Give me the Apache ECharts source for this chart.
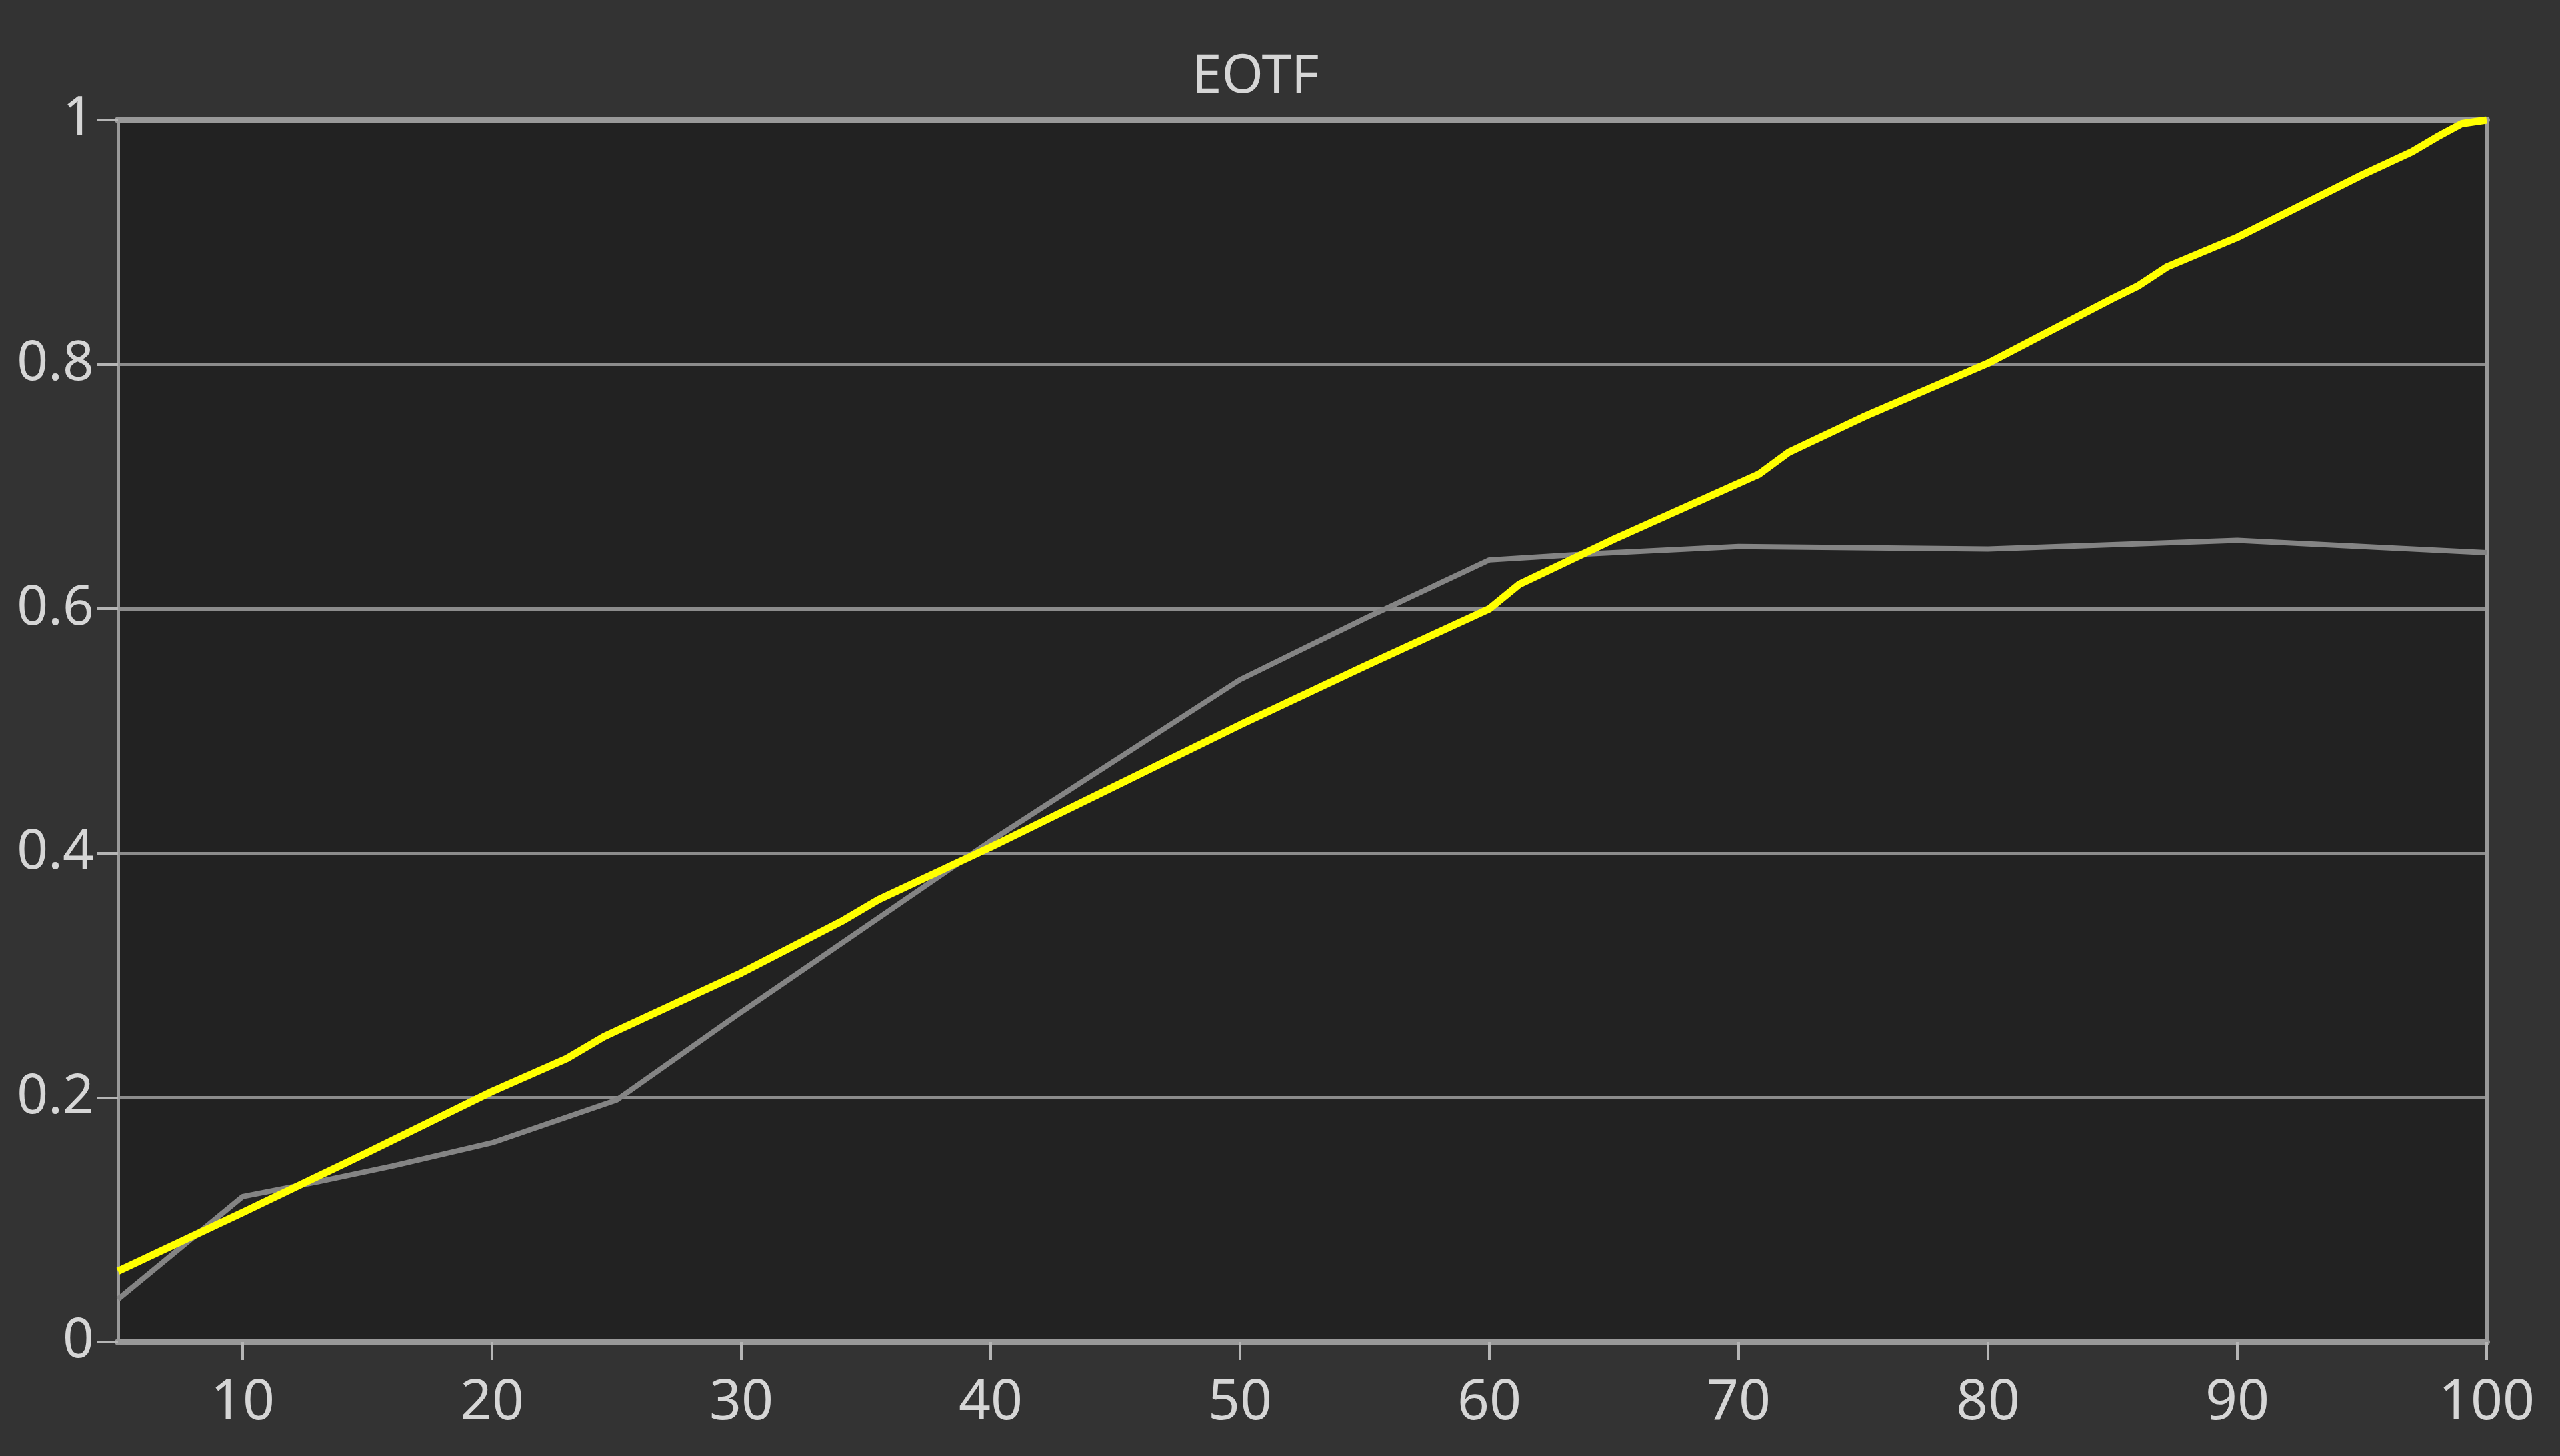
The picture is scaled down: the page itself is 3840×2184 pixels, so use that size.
<!DOCTYPE html>
<html>
<head>
<meta charset="utf-8">
<script src="https://cdn.jsdelivr.net/npm/echarts@6/dist/echarts.min.js"></script>
<style>
html,body{margin:0;padding:0;background:#333333;}
#chart{width:3840px;height:2184px;}
</style>
</head>
<body>
<div id="chart"></div>
<script>
// ---- data ----
var chartTitle = 'EOTF';
var xTickValues = [10, 20, 30, 40, 50, 60, 70, 80, 90, 100];
var yTickValues = [0, 0.2, 0.4, 0.6, 0.8, 1];

// target curve (yellow)
var targetX = [5, 10, 15, 20, 23, 24.5, 30, 34, 35.5, 40, 45, 50, 55, 60, 61.2, 65, 70.8, 72, 75, 80, 85, 86, 87.2, 90, 95, 97, 98, 99, 100];
var targetY = [0.058, 0.106, 0.155, 0.205, 0.232, 0.250, 0.302, 0.344, 0.362, 0.405, 0.455, 0.505, 0.553, 0.600, 0.620, 0.657, 0.710, 0.728, 0.757, 0.801, 0.854, 0.864, 0.880, 0.904, 0.955, 0.974, 0.986, 0.997, 1.0];

// measured curve (gray)
var measuredX = [5, 10, 13, 16, 20, 25, 30, 40, 50, 55, 60, 64, 70, 80, 90, 100];
var measuredY = [0.035, 0.119, 0.131, 0.144, 0.163, 0.198, 0.270, 0.410, 0.542, 0.592, 0.640, 0.645, 0.651, 0.649, 0.656, 0.646];

function pairs(xs, ys) {
  var out = [];
  for (var i = 0; i < xs.length; i++) out.push([xs[i], ys[i]]);
  return out;
}

var FONT = 'Noto Sans';
var chart = echarts.init(document.getElementById('chart'), null, {renderer: 'canvas'});

var option = {
  animation: false,
  backgroundColor: '#333333',
  graphic: [{
    type: 'text',
    left: 1883 - 95,
    top: 112 - 36,
    style: {
      text: chartTitle,
      x: 0, y: 0,
      fill: '#d6d6d6',
      font: '80px "' + FONT + '"'
    }
  }],
  grid: {
    left: 177, right: 110, top: 180, bottom: 171,
    show: true,
    backgroundColor: '#222222',
    borderWidth: 0
  },
  xAxis: [{
    type: 'value',
    min: 5, max: 100,
    position: 'bottom',
    axisLine: {show: true, onZero: false, lineStyle: {color: '#999999', width: 10}},
    axisTick: {show: true, length: 27, customValues: xTickValues, lineStyle: {color: '#b5b5b5', width: 4}},
    axisLabel: {show: true, customValues: xTickValues, margin: 50, color: '#d6d6d6', fontSize: 84, fontFamily: FONT},
    splitLine: {show: false}
  }, {
    type: 'value',
    min: 5, max: 100,
    position: 'top',
    axisLine: {show: true, onZero: false, lineStyle: {color: '#999999', width: 10}},
    axisTick: {show: false},
    axisLabel: {show: false},
    splitLine: {show: false}
  }],
  yAxis: [{
    type: 'value',
    min: 0, max: 1, interval: 0.2,
    position: 'left',
    axisLine: {show: true, onZero: false, lineStyle: {color: '#999999', width: 5}},
    axisTick: {show: true, length: 32, lineStyle: {color: '#b5b5b5', width: 4}},
    axisLabel: {show: true, margin: 36, color: '#d6d6d6', fontSize: 82, fontFamily: FONT,
      formatter: function (v) { return String(Math.round(v * 10) / 10); }},
    splitLine: {show: true, lineStyle: {color: '#8c8c8c', width: 5}}
  }, {
    type: 'value',
    min: 0, max: 1,
    position: 'right',
    axisLine: {show: true, onZero: false, lineStyle: {color: '#999999', width: 5}},
    axisTick: {show: false},
    axisLabel: {show: false},
    splitLine: {show: false}
  }],
  series: [{
    name: 'Measured',
    type: 'line',
    xAxisIndex: 0, yAxisIndex: 0,
    data: pairs(measuredX, measuredY),
    showSymbol: false,
    smooth: false,
    lineStyle: {color: '#848484', width: 8},
    z: 3
  }, {
    name: 'Target',
    type: 'line',
    xAxisIndex: 0, yAxisIndex: 0,
    data: pairs(targetX, targetY),
    showSymbol: false,
    smooth: false,
    lineStyle: {color: '#ffff00', width: 11},
    z: 4
  }]
};
chart.setOption(option);
</script>
</body>
</html>
